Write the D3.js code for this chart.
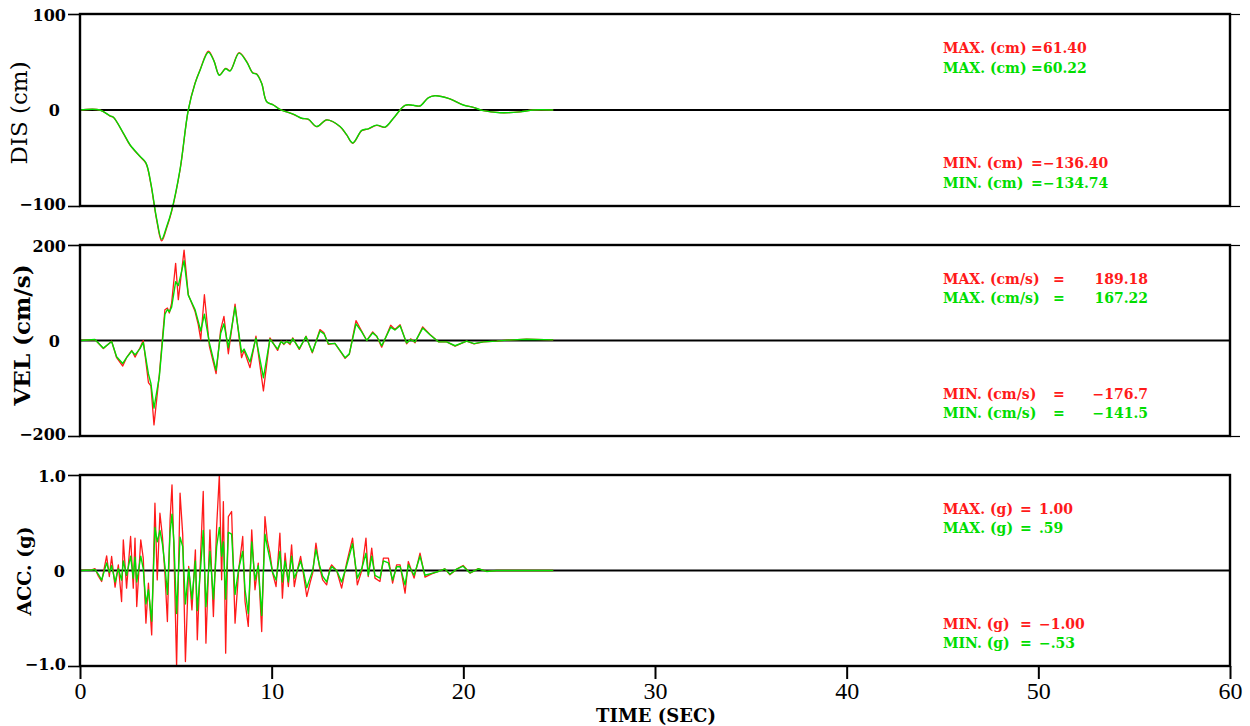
<!DOCTYPE html>
<html><head><meta charset="utf-8">
<script src="https://cdn.jsdelivr.net/npm/d3@7"></script>
<style>html,body{margin:0;padding:0;background:#fff;}svg{display:block;}</style>
</head><body>
<svg id="chart" width="1250" height="726"></svg>
<script>
// ---------- DATA ----------
const xTicks = [0, 10, 20, 30, 40, 50, 60];

const disTime = [0,1.04,1.57,1.74,2.26,2.61,3.13,3.44,3.69,4.0,
  4.26,4.52,4.78,5.22,5.65,6.0,6.26,6.7,6.99,7.27,
  7.6,7.83,8.3,8.7,9.01,9.22,9.48,9.74,10.09,10.43,
  11.13,11.57,11.91,12.35,12.87,13.57,13.91,14.23,14.7,15.04,
  15.48,15.91,16.35,16.96,17.39,17.74,18.17,18.52,19.22,20.0,
  20.52,21.04,21.91,22.96,23.65,24.69];
const disRed = [0,0,-6.3,-7.6,-24.3,-36.5,-48.6,-55.6,-76.4,-114.6,
  -136.4,-123,-105.9,-62.5,0,27.8,41.7,61.4,51.4,36.5,
  43.4,41,59.7,50.3,38.9,37.5,27.8,8.7,5.2,0.7,
  -4.5,-8.7,-9.7,-17.4,-10.4,-17.4,-26,-34.7,-21.5,-19.8,
  -16,-18,-8.7,4.9,4.9,4.2,12.8,14.9,12.2,5.2,
  2.8,-0.7,-2.8,-2,0,0];
const disGreen = [0,0,-6.2,-7.5,-24.0,-36.2,-48.2,-55.0,-75.6,-113.4,
  -134.74,-121.6,-104.8,-61.8,0,27.5,41.2,60.22,50.9,36.2,
  43.0,40.6,59.2,49.9,38.6,37.2,27.6,8.6,5.2,0.7,
  -4.4,-8.6,-9.6,-17.2,-10.3,-17.2,-25.7,-34.3,-21.3,-19.6,
  -15.8,-17.8,-8.6,4.9,4.9,4.2,12.7,14.8,12.1,5.2,
  2.8,-0.7,-2.8,-2,0,0];

const velTime = [0,0.78,1.22,1.65,1.91,2.23,2.43,2.7,2.87,3.13,
  3.3,3.57,3.7,3.86,4.14,4.43,4.56,4.66,4.78,4.99,
  5.13,5.43,5.65,6.0,6.17,6.3,6.49,6.75,7.1,7.34,
  7.51,7.74,8.09,8.43,8.56,8.87,9.18,9.57,9.91,10.31,
  10.49,10.64,10.78,10.96,11.1,11.44,11.79,12.12,12.52,12.73,
  12.96,13.3,13.83,14.05,14.4,14.7,14.96,15.27,15.48,15.74,
  16.21,16.43,16.7,17.04,17.25,17.48,17.88,18.26,18.7,19.13,
  19.57,20.17,20.56,21.04,21.74,22.26,23.3,24.69];
const velRed = [0,2,-16.7,-1.4,-36,-53.4,-36,-20.8,-34.7,-15.3,
  0,-88,-95,-176.7,-70.8,64.5,68,57.6,78.4,161.7,
  85.4,189.18,95.8,61,33.3,2,95.8,-11.8,-69.4,22.9,
  50.7,-27.8,76.3,-36,-20.8,-56.9,9,-105.5,5.6,-20.8,
  -1.4,-8.3,-1.4,-8.3,5.6,-18.7,9,-25.7,22.9,16,
  -8.3,-6.2,-37.5,-29,41.6,19.4,0,18,9,-13.9,
  31.9,22.9,33.3,-6.9,3.5,-4.9,28.5,12.5,-2.8,-2.8,
  -11.8,-1.4,-6.9,-2.8,-1.4,0.7,2.8,1.4];
const velGreen = [0,2,-16,-2,-34,-48,-36,-22,-30,-17,
  -4,-70,-90,-141.5,-75,55,65,60,70,123,
  115,167.22,95,65,40,20,55,-5,-62,15,
  35,-15,70,-25,-18,-45,5,-78,3,-18,
  -2,-7,-2,-6,4,-17,8,-24,20,14,
  -7,-6,-36,-28,35,18,0,16,9,-11,
  28,22,31,-5,2,-3,26,12,-2.8,-2.8,
  -11,-1.4,-6.5,-2.8,-1.4,0.7,2.5,1.4];

const accTime = [0,0.61,0.78,0.96,1.13,1.39,1.53,1.65,1.83,2.0,
  2.17,2.26,2.43,2.64,2.78,2.87,2.96,3.17,3.3,3.44,
  3.57,3.74,3.91,4.03,4.17,4.3,4.43,4.56,4.7,4.8,
  4.9,5.04,5.22,5.36,5.5,5.67,5.84,6.02,6.12,6.3,
  6.43,6.57,6.78,6.96,7.13,7.27,7.39,7.48,7.6,7.74,
  7.91,8.09,8.28,8.49,8.61,8.78,8.96,9.13,9.3,9.48,
  9.65,9.77,9.91,10.05,10.23,10.43,10.56,10.7,10.87,11.04,
  11.18,11.34,11.51,11.65,11.83,12.0,12.14,12.31,12.49,12.66,
  12.87,13.04,13.13,13.39,13.65,13.91,14.22,14.47,14.7,14.92,
  15.04,15.22,15.39,15.65,15.83,16.09,16.31,16.52,16.7,16.96,
  17.13,17.43,17.74,18.0,18.35,18.7,19.04,19.3,19.65,19.99,
  20.35,20.78,21.21,21.74,22.43,24.69];
const accRed = [0,0.007,0.02,-0.06,-0.115,0.154,-0.063,0.147,-0.175,0.059,
  -0.325,0.321,-0.185,0.356,-0.185,0.339,-0.377,0.321,0.129,-0.551,
  -0.133,-0.674,0.705,-0.098,0.6,0.356,-0.028,-0.534,0.531,0.897,
  0.216,-1.0,0.81,0.373,-0.953,0.042,-0.412,0.216,-0.726,0.199,
  0.827,-0.761,0.426,-0.482,0.461,1.0,-0.098,0.722,-0.866,0.565,
  0.618,-0.551,0.007,0.356,-0.325,-0.586,0.426,-0.202,0.077,-0.639,
  0.565,0.321,0.181,-0.028,-0.168,0.391,-0.29,0.181,-0.168,0.269,
  -0.168,0.007,0.147,-0.028,-0.272,-0.133,-0.028,0.286,0.042,-0.098,
  -0.15,0.024,0.059,0.0,-0.185,0.077,0.339,-0.15,0.0,0.339,
  -0.063,0.234,-0.08,-0.115,0.129,0.129,-0.133,0.059,0.059,-0.237,
  0.094,-0.08,0.181,-0.07,-0.035,-0.01,0.017,-0.045,0.014,0.052,
  -0.028,0.02,-0.01,0.0,0.0,0];
const accGreen = [0,0.005,0.01,-0.04,-0.1,0.08,-0.02,0.05,-0.12,0.02,
  -0.1,0.1,-0.05,0.15,-0.08,0.14,-0.12,0.15,0.02,-0.35,
  -0.2,-0.53,0.45,0.3,0.42,0.28,0.05,-0.25,0.4,0.59,
  0.3,-0.45,0.35,0.25,-0.35,0.02,-0.3,0.1,-0.42,0.05,
  0.42,-0.38,0.2,-0.3,0.25,0.45,0.15,0.3,-0.3,0.4,
  0.38,-0.25,0.02,0.2,-0.2,-0.45,0.3,-0.1,0.05,-0.47,
  0.38,0.25,0.12,-0.02,-0.1,0.2,-0.12,0.1,-0.12,0.15,
  -0.08,0.0,0.1,0.0,-0.18,-0.08,0.0,0.22,0.06,-0.06,
  -0.12,0.0,0.04,0.0,-0.12,0.05,0.28,-0.08,0.02,0.18,
  -0.05,0.15,-0.05,-0.08,0.1,0.08,-0.1,0.04,0.04,-0.15,
  0.06,-0.05,0.15,-0.05,-0.03,-0.01,0.017,-0.04,0.014,0.045,
  -0.025,0.018,-0.01,0.0,0.0,0];

const disTickLabels = ["100", "0", "\u2212100"];
const velTickLabels = ["200", "0", "\u2212200"];
const accTickLabels = ["1.0", "0", "\u22121.0"];

const disStats = [["MAX. (cm)", "=", "61.40"], ["MAX. (cm)", "=", "60.22"],
                  ["MIN. (cm)", "=", "\u2212136.40"], ["MIN. (cm)", "=", "\u2212134.74"]];
const velStats = [["MAX. (cm/s)", "=", "189.18"], ["MAX. (cm/s)", "=", "167.22"],
                  ["MIN. (cm/s)", "=", "\u2212176.7"], ["MIN. (cm/s)", "=", "\u2212141.5"]];
const accStats = [["MAX. (g)", "=", "1.00"], ["MAX. (g)", "=", ".59"],
                  ["MIN. (g)", "=", "\u22121.00"], ["MIN. (g)", "=", "\u2212.53"]];

// ---------- DRAW ----------
const RED = "#ff1a1a", GREEN = "#00dd00";
const svg = d3.select("#chart");
const x = d3.scaleLinear().domain([0, 60]).range([80, 1230]);

const panels = [
  {top: 14, bottom: 206, lim: 100, t: disTime, red: disRed, green: disGreen, smooth: true,
   labels: disTickLabels, title: "DIS (cm)", titleBold: false, titleSize: 23, titleX: 27, titleY: 113,
   zeroX: 60, stats: disStats, eqX: 1031, valX: 1043, valAnchor: "start", rightTicks: true,
   statY: [48, 68, 163, 183]},
  {top: 245, bottom: 436, lim: 200, t: velTime, red: velRed, green: velGreen, smooth: false,
   labels: velTickLabels, title: "VEL (cm/s)", titleBold: true, titleSize: 23, titleX: 30, titleY: 335,
   zeroX: 60, stats: velStats, eqX: 1053, valX: 1148, valAnchor: "end", rightTicks: true,
   statY: [279, 298, 394, 413]},
  {top: 475, bottom: 666, lim: 1, t: accTime, red: accRed, green: accGreen, smooth: false,
   labels: accTickLabels, title: "ACC. (g)", titleBold: true, titleSize: 19, titleX: 31, titleY: 571,
   zeroX: 65, stats: accStats, eqX: 1020, valX: 1039, valAnchor: "start", rightTicks: false,
   statY: [509, 528, 624, 643]}
];

panels.forEach((p, i) => {
  const y = d3.scaleLinear().domain([-p.lim, p.lim]).range([p.bottom, p.top]);
  const g = svg.append("g");

  // left ticks
  const ax = d3.axisLeft(y).tickValues([-p.lim, p.lim]).tickSize(12).tickFormat("");
  const gl = g.append("g").attr("transform", "translate(80,0)").call(ax);
  gl.select(".domain").remove();
  gl.selectAll("line").attr("stroke", "#000").attr("stroke-width", 1.6);

  if (p.rightTicks) {
    const ar = d3.axisRight(y).tickValues([-p.lim, p.lim]).tickSize(10).tickFormat("");
    const gr = g.append("g").attr("transform", "translate(1230,0)").call(ar);
    gr.select(".domain").remove();
    gr.selectAll("line").attr("stroke", "#000").attr("stroke-width", 1.2);
  }

  // tick labels
  const tickFont = "'DejaVu Serif', serif";
  g.append("text").attr("x", 66).attr("y", y(p.lim)).attr("dy", "0.42em")
    .attr("text-anchor", "end").attr("font-family", tickFont).attr("font-weight", "bold")
    .attr("font-size", 16).text(p.labels[0]);
  g.append("text").attr("x", p.zeroX).attr("y", y(0)).attr("dy", "0.38em")
    .attr("text-anchor", "end").attr("font-family", tickFont).attr("font-weight", "bold")
    .attr("font-size", 16).text(p.labels[1]);
  g.append("text").attr("x", 66).attr("y", y(-p.lim)).attr("dy", "0.25em")
    .attr("text-anchor", "end").attr("font-family", tickFont).attr("font-weight", "bold")
    .attr("font-size", 16).text(p.labels[2]);

  // axis title
  g.append("text").attr("transform", `translate(${p.titleX},${p.titleY}) rotate(-90)`)
    .attr("text-anchor", "middle").attr("font-family", "'DejaVu Serif', serif")
    .attr("font-weight", p.titleBold ? "bold" : "normal")
    .attr("font-size", p.titleSize).text(p.title);

  // zero line
  g.append("line").attr("x1", x(0)).attr("x2", x(60)).attr("y1", y(0)).attr("y2", y(0))
    .attr("stroke", "#000").attr("stroke-width", 1.8);

  // traces
  const line = d3.line().x(d => x(d[0])).y(d => y(d[1]))
    .curve(p.smooth ? d3.curveCatmullRom.alpha(0.5) : d3.curveLinear);
  const redData = p.t.map((t, k) => [t, p.red[k]]);
  const greenData = p.t.map((t, k) => [t, p.green[k]]);
  g.append("path").datum(redData).attr("d", line).attr("fill", "none")
    .attr("stroke", RED).attr("stroke-width", 1.3).attr("stroke-linejoin", "round");
  g.append("path").datum(greenData).attr("d", line).attr("fill", "none")
    .attr("stroke", GREEN).attr("stroke-width", 1.4).attr("stroke-linejoin", "round");

  // frame
  g.append("rect").attr("x", x(0)).attr("y", p.top).attr("width", x(60) - x(0))
    .attr("height", p.bottom - p.top).attr("fill", "none")
    .attr("stroke", "#000").attr("stroke-width", 2.4);

  // stats
  p.stats.forEach((s, k) => {
    const col = (k % 2 === 0) ? RED : GREEN;
    const yy = p.statY[k];
    const common = sel => sel.attr("y", yy).attr("dy", "0.36em").attr("fill", col)
      .attr("font-family", "'DejaVu Serif', serif").attr("font-weight", "bold").attr("font-size", 14);
    g.append("text").call(common).attr("x", 943).text(s[0]);
    g.append("text").call(common).attr("x", p.eqX).text(s[1]);
    g.append("text").call(common).attr("x", p.valX).attr("text-anchor", p.valAnchor).text(s[2]);
  });

  // bottom axis on last panel
  if (i === panels.length - 1) {
    const ab = d3.axisBottom(x).tickValues(xTicks).tickSize(13).tickPadding(3).tickFormat(d3.format("d"));
    const gb = g.append("g").attr("transform", `translate(0,${p.bottom})`).call(ab);
    gb.select(".domain").remove();
    gb.selectAll("line").attr("stroke", "#000").attr("stroke-width", 2);
    gb.selectAll("text").attr("font-family", "'Liberation Serif', serif")
      .attr("font-size", 24).attr("fill", "#000");
    g.append("text").attr("x", 656).attr("y", 722).attr("text-anchor", "middle")
      .attr("font-family", "'DejaVu Serif', serif").attr("font-weight", "bold")
      .attr("font-size", 18).text("TIME (SEC)");
  }
});
</script>
</body></html>
